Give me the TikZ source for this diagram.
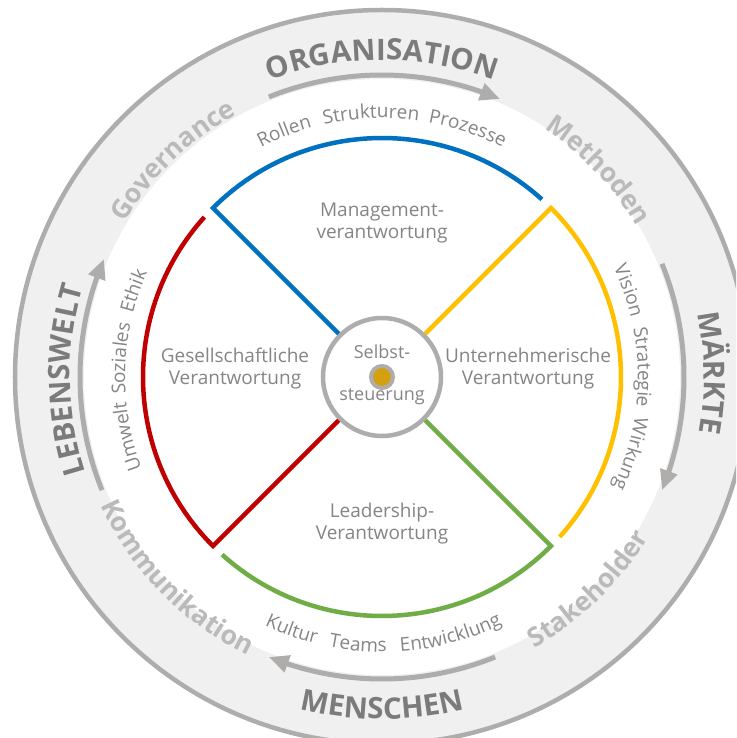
\documentclass[tikz,border=0pt]{standalone}
\usepackage{fontspec}
\setmainfont{Open Sans}
\usetikzlibrary{decorations.text,arrows.meta,bending}
\definecolor{ringgray}{HTML}{AFACAC}
\definecolor{bandfill}{HTML}{F0F0F0}
\definecolor{darklbl}{HTML}{7B7B7B}
\definecolor{lightlbl}{HTML}{BABABA}
\definecolor{midlbl}{HTML}{858585}
\definecolor{qblue}{HTML}{0070C0}
\definecolor{qyellow}{HTML}{FFC000}
\definecolor{qgreen}{HTML}{70AD47}
\definecolor{qred}{HTML}{C00000}
\definecolor{dotgold}{HTML}{D4A00E}
\newcommand{\bigfmt}{\fontsize{29.5}{33}\selectfont\bfseries\color{darklbl}}
\newcommand{\midfmt}{\fontsize{26.5}{30}\selectfont\bfseries\color{lightlbl}}
\newcommand{\smallfmt}{\fontsize{19}{23}\selectfont\color{midlbl}}
\newcommand{\cwtext}[4]{\path[arctxt={#1}{#4}] (#2+40:#3) arc[start angle=#2+40, end angle=#2-40, radius=#3];}
\newcommand{\ccwtext}[4]{\path[arctxt={#1}{#4}] (#2-40:#3) arc[start angle=#2-40, end angle=#2+40, radius=#3];}
\begin{document}
\begin{tikzpicture}[x=1pt,y=1pt,
  arctxt/.style n args={2}{decorate,decoration={text along path,text align=center,text={|#1|#2}}},
  quad/.style={line width=4.5pt,line join=miter,line cap=butt},
  ringarrow/.style={draw=ringgray,line width=5pt,-{Triangle[length=20pt,width=17pt,flex]}},
  qlabel/.style={text=midlbl,font=\fontsize{19}{21.5}\selectfont,align=center}
]
\useasboundingbox (-382,-361) rectangle (354,377);
\clip (-382,-361) rectangle (354,377);
% outer band
\path[fill=bandfill,draw=ringgray,line width=4.5pt] (0,0) circle[radius=367];
\path[fill=white] (0,0) circle[radius=298];
% ring arrows
\draw[ringarrow] (112:302) arc[start angle=112,end angle=67,radius=302];
\draw[ringarrow] (22:302) arc[start angle=22,end angle=-22,radius=302];
\draw[ringarrow] (-68:302) arc[start angle=-68,end angle=-112,radius=302];
\draw[ringarrow] (202:302) arc[start angle=202,end angle=157,radius=302];
% outer labels
\cwtext{\bigfmt}{90}{317}{ORGANISATION}
\cwtext{\bigfmt}{0.7}{322}{MÄRKTE}
\cwtext{\bigfmt}{180.6}{312}{LEBENSWELT}
\ccwtext{\bigfmt}{270}{342}{MENSCHEN}
% diagonal labels
\cwtext{\midfmt}{134}{300}{Governance}
\cwtext{\midfmt}{43.7}{296}{Methoden}
\ccwtext{\midfmt}{-45.8}{311}{Stakeholder}
\ccwtext{\midfmt}{224.4}{309}{Kommunikation}
% small words
\cwtext{\smallfmt}{111.7}{259}{Rollen}
\cwtext{\smallfmt}{92.4}{259}{Strukturen}
\cwtext{\smallfmt}{71}{259}{Prozesse}
\cwtext{\smallfmt}{19.3}{256}{Vision}
\cwtext{\smallfmt}{2.2}{256}{Strategie}
\cwtext{\smallfmt}{-17.2}{256}{Wirkung}
\cwtext{\smallfmt}{193.2}{257}{Umwelt}
\cwtext{\smallfmt}{175.9}{257}{Soziales}
\cwtext{\smallfmt}{160.9}{257}{Ethik}
\ccwtext{\smallfmt}{250.4}{275}{Kultur}
\ccwtext{\smallfmt}{264.9}{275}{Teams}
\ccwtext{\smallfmt}{284.9}{275}{Entwicklung}
% centre circle
\node[circle,draw=ringgray,line width=4.5pt,fill=white,minimum size=118pt,inner sep=0pt] (core) at (0,0) {};
\node[circle,draw=ringgray,fill=dotgold,line width=4pt,minimum size=22pt,inner sep=0pt] (dot) at (0,0) {};
\node[text=midlbl,font=\fontsize{18}{21}\selectfont,anchor=base] (selbst) at (0,18) {Selbst-};
\node[text=midlbl,font=\fontsize{18}{21}\selectfont,anchor=base] (steuer) at (0,-24) {steuerung};
% quadrant corners
\coordinate (cb) at (135:239);
\coordinate (cy) at (45:239);
\coordinate (cg) at (-45:239);
\coordinate (cr) at (225:239);
\draw[quad,draw=qblue] (core.135) -- (cb) arc[start angle=135,end angle=48,radius=239];
\draw[quad,draw=qyellow] (core.45) -- (cy) arc[start angle=45,end angle=-42,radius=239];
\draw[quad,draw=qgreen] (core.-45) -- (cg) arc[start angle=-45,end angle=-132,radius=239];
\draw[quad,draw=qred] (core.225) -- (cr) arc[start angle=225,end angle=138,radius=239];
% quadrant labels
\node[qlabel] (mgmt) at (0,154) {Management-\\verantwortung};
\node[qlabel] (ges) at (-147,8.5) {Gesellschaftliche\\Verantwortung};
\node[qlabel] (unt) at (146,8.5) {Unternehmerische\\Verantwortung};
\node[qlabel] (lead) at (0,-146.5) {Leadership-\\Verantwortung};
\end{tikzpicture}
\end{document}
